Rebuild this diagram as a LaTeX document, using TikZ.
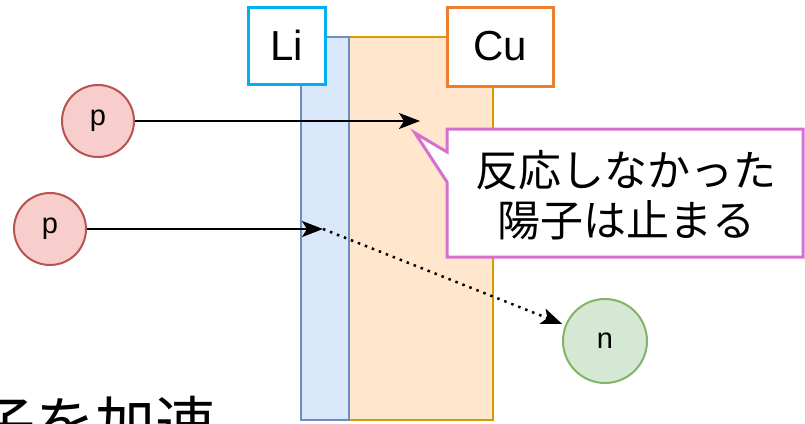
\documentclass[tikz,border=0pt]{standalone}
\usepackage{fontspec}
\setmainfont{Liberation Sans}
\newfontfamily\jp{Noto Sans CJK JP}
\usetikzlibrary{arrows.meta}
\definecolor{lifill}{HTML}{DAE8FC}
\definecolor{listroke}{HTML}{6C8EBF}
\definecolor{cufill}{HTML}{FFE6CC}
\definecolor{custroke}{HTML}{D79B00}
\definecolor{cyanbox}{HTML}{00B0F0}
\definecolor{orangebox}{HTML}{ED7D31}
\definecolor{pinkbox}{HTML}{D670D0}
\definecolor{pfill}{HTML}{F8CECC}
\definecolor{pstroke}{HTML}{B85450}
\definecolor{nfill}{HTML}{D5E8D4}
\definecolor{nstroke}{HTML}{82B366}
\tikzset{
  layer/.style={draw=#1, line width=2pt},
  labelbox/.style={draw=#1, fill=white, line width=3pt, rectangle, inner sep=0pt, font=\fontsize{42}{48}\selectfont},
  particle/.style={circle, line width=2pt, inner sep=0pt, font=\fontsize{29}{34}\selectfont},
  beam/.style={line width=2.2pt, -{Stealth[length=21pt,width=16pt,inset=5pt]}},
  dotbeam/.style={line width=2.5pt, dash pattern=on 2.5pt off 5pt, -{Stealth[length=21pt,width=16pt,inset=5pt]}, shorten >=3pt},
}
\begin{document}
\begin{tikzpicture}[x=1pt,y=-1pt]
\useasboundingbox (0,0) rectangle (805,423);
\begin{scope}
\clip (0,0) rectangle (805,423);
% layers
\node[layer=custroke, fill=cufill, rectangle, minimum width=144pt, minimum height=383pt, inner sep=0pt] (cu) at (421,228.5) {};
\node[layer=listroke, fill=lifill, rectangle, minimum width=48pt, minimum height=383pt, inner sep=0pt] (li) at (325,228.5) {};
% labels
\node[labelbox=cyanbox, minimum width=77pt, minimum height=77pt] (lilabel) at (286.5,45.5) {Li};
\node[labelbox=orangebox, minimum width=106pt, minimum height=79pt] (culabel) at (500,46.5) {Cu};
% particles
\node[particle, draw=pstroke, fill=pfill, minimum size=72pt] (p1) at (98,121) {p};
\node[particle, draw=pstroke, fill=pfill, minimum size=72pt] (p2) at (50,229) {p};
\node[particle, draw=nstroke, fill=nfill, minimum size=84pt] (n) at (605,341) {n};
% beams
\coordinate (c1) at (420,121);
\coordinate (c2) at (323,229);
\draw[beam] (p1.east) -- (c1);
\draw[beam] (p2.east) -- (c2);
\draw[dotbeam] (c2) -- (n);
% callout
\draw[draw=pinkbox, fill=white, line width=3pt, line join=miter]
  (447,129) -- (803,129) -- (803,257) -- (447,257) -- (447,182) -- (415,133) -- (447,152) -- cycle;
\node[align=center, font=\jp\fontsize{43}{50}\selectfont, inner sep=0pt] (callout) at (626,195) {反応しなかった\\陽子は止まる};
% bottom text, cut off by the picture's lower edge as in the reference
\node[anchor=base east, font=\jp\fontsize{60}{60}\selectfont, inner sep=0pt] (bottomtext) at (216,446) {陽子を加速};
\end{scope}
\end{tikzpicture}
\end{document}
